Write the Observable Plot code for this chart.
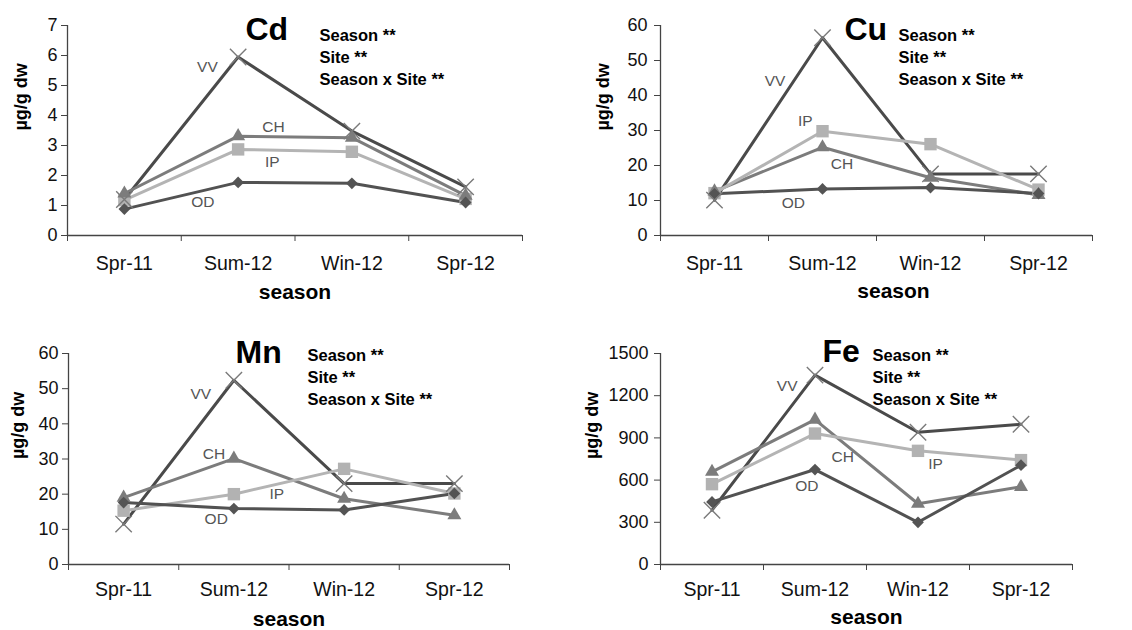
<!DOCTYPE html>
<html>
<head>
<meta charset="utf-8">
<script src="https://cdn.jsdelivr.net/npm/d3@7"></script>
<script src="https://cdn.jsdelivr.net/npm/@observablehq/plot@0.6"></script>
<style>
  html, body { margin: 0; padding: 0; background: #fff; }
  #root { position: relative; width: 1132px; height: 630px; overflow: hidden; font-family: "Liberation Sans", Arial, sans-serif; }
  .panel { position: absolute; }
</style>
</head>
<body>
<div id="root"></div>
<script>
// ---- categories ----
const seasons = ["Spr-11", "Sum-12", "Win-12", "Spr-12"];
const sites = ["VV", "CH", "IP", "OD"];
const annotation = ["Season **", "Site **", "Season x Site **"];
const yLabel = "µg/g dw";
const xLabel = "season";

// ---- Cd (µg/g dw) ----
const cdVV = [1.2, 5.95, 3.48, 1.62];
const cdCH = [1.4, 3.31, 3.26, 1.33];
const cdIP = [1.18, 2.87, 2.79, 1.22];
const cdOD = [0.88, 1.77, 1.74, 1.1];
const cdTicks = [0, 1, 2, 3, 4, 5, 6, 7];
// label anchors [site, season index, value]
const cdLabels = [["VV", 0.73, 5.6], ["CH", 1.31, 3.6], ["IP", 1.3, 2.45], ["OD", 0.69, 1.1]];

// ---- Cu ----
const cuVV = [10.1, 56.5, 17.6, 17.6];
const cuCH = [12.6, 25.2, 16.5, 11.6];
const cuIP = [12.1, 29.8, 26.1, 13.1];
const cuOD = [11.9, 13.3, 13.7, 12.0];
const cuTicks = [0, 10, 20, 30, 40, 50, 60];
const cuLabels = [["VV", 0.56, 44], ["IP", 0.84, 32.6], ["CH", 1.18, 20.5], ["OD", 0.73, 9.2]];

// ---- Mn ----
const mnVV = [11.5, 52.4, 23.0, 23.0];
const mnCH = [19.0, 30.1, 18.7, 14.0];
const mnIP = [15.3, 20.0, 27.2, 20.2];
const mnOD = [17.6, 15.9, 15.5, 20.2];
const mnTicks = [0, 10, 20, 30, 40, 50, 60];
const mnLabels = [["VV", 0.7, 48.6], ["CH", 0.82, 31.5], ["IP", 1.39, 19.9], ["OD", 0.84, 12.8]];

// ---- Fe ----
const feVV = [386, 1346, 940, 997];
const feCH = [659, 1030, 432, 552];
const feIP = [571, 931, 808, 742];
const feOD = [445, 675, 300, 706];
const feTicks = [0, 300, 600, 900, 1200, 1500];
const feLabels = [["VV", 0.73, 1272], ["CH", 1.27, 761], ["OD", 0.92, 555], ["IP", 2.17, 711]];

// ---- styling ----
const lineColors = ["#4a4a4a", "#7c7c7c", "#b4b4b4", "#525252"];
const font = "'Liberation Sans', Arial, sans-serif";

function rowsOf(series) {
  const rows = [];
  series.forEach(([site, vals]) => vals.forEach((v, i) => rows.push({site, i, v})));
  return rows;
}

function panel(cfg) {
  const rows = rowsOf(cfg.series);
  const labels = cfg.labels.map(([site, i, v]) => ({site, i, v}));
  const bySite = s => rows.filter(d => d.site === s);
  const ymax = cfg.ticks[cfg.ticks.length - 1];
  return Plot.plot({
    width: cfg.width, height: cfg.height,
    marginLeft: cfg.ml, marginRight: cfg.mr, marginTop: cfg.mt, marginBottom: cfg.mb,
    style: {fontFamily: font, background: "transparent", color: "#000", overflow: "visible"},
    x: {type: "linear", domain: [-0.5, 3.5]},
    y: {domain: [0, ymax]},
    color: {domain: sites, range: lineColors},
    marks: [
      Plot.axisY({ticks: cfg.ticks, tickSize: 6, tickPadding: cfg.typ, tickFormat: d => String(d), fontSize: 18, label: null, stroke: "#444", fill: "#111"}),
      Plot.axisX({ticks: [0, 1, 2, 3], tickSize: 0, tickPadding: cfg.txp, tickFormat: i => seasons[i], fontSize: 19.5, label: null, fill: "#111"}),
      Plot.axisX({ticks: [-0.5, 0.5, 1.5, 2.5, 3.5], tickSize: 6, tickFormat: () => "", label: null, stroke: "#444"}),
      Plot.ruleX([-0.5], {stroke: "#444", strokeWidth: 1.3}),
      Plot.ruleY([0], {stroke: "#444", strokeWidth: 1.3}),
      Plot.line(rows, {x: "i", y: "v", z: "site", stroke: "site", strokeWidth: 3}),
      Plot.dot(bySite("IP"), {x: "i", y: "v", symbol: "square", fill: "#b2b2b2", r: 7}),
      Plot.dot(bySite("CH"), {x: "i", y: "v", symbol: "triangle", fill: "#7c7c7c", r: 5.2}),
      Plot.dot(bySite("OD"), {x: "i", y: "v", symbol: "diamond2", fill: "#545454", r: 5.3}),
      Plot.dot(bySite("VV"), {x: "i", y: "v", symbol: "times", stroke: "#7a7a7a", strokeWidth: 1.4, r: 7.5}),
      Plot.text(labels, {x: "i", y: "v", text: "site", fill: "#555", fontSize: 15.5}),
      Plot.text([cfg.title], {text: d => d, frameAnchor: "top-left", dx: cfg.tdx, dy: cfg.tdy, lineAnchor: "bottom", textAnchor: "start", fontSize: 32, fontWeight: "bold", fill: "#000"}),
      Plot.text([annotation.join("\n")], {text: d => d, frameAnchor: "top-left", dx: cfg.adx, dy: cfg.ady, lineAnchor: "top", textAnchor: "start", fontSize: 16.5, fontWeight: "bold", lineHeight: 1.33, fill: "#000"}),
      Plot.text([yLabel], {text: d => d, frameAnchor: "left", dx: cfg.ydx, rotate: -90, fontSize: 18, fontWeight: "bold", fill: "#000"}),
      Plot.text([xLabel], {text: d => d, frameAnchor: "bottom", dx: cfg.xdx, dy: cfg.xdy, fontSize: 21, fontWeight: "bold", fill: "#000"})
    ]
  });
}

const panels = [
  {left: 0, top: 0, width: 566, height: 310, ml: 67, mr: 44, mt: 25, mb: 75,
   title: "Cd", ticks: cdTicks, labels: cdLabels, typ: 4, txp: 21,
   series: [["VV", cdVV], ["CH", cdCH], ["IP", cdIP], ["OD", cdOD]],
   tdx: 178, tdy: 14, adx: 252, ady: 0, ydx: -46, xdx: 0, xdy: 63},
  {left: 566, top: 0, width: 566, height: 310, ml: 94, mr: 40, mt: 25, mb: 75,
   title: "Cu", ticks: cuTicks, labels: cuLabels, typ: 7, txp: 21,
   series: [["VV", cuVV], ["CH", cuCH], ["IP", cuIP], ["OD", cuOD]],
   tdx: 184, tdy: 14, adx: 238, ady: 0, ydx: -57, xdx: 17, xdy: 62},
  {left: 0, top: 320, width: 566, height: 310, ml: 68, mr: 57, mt: 33, mb: 66,
   title: "Mn", ticks: mnTicks, labels: mnLabels, typ: 4, txp: 18,
   series: [["VV", mnVV], ["CH", mnCH], ["IP", mnIP], ["OD", mnOD]],
   tdx: 167, tdy: 9, adx: 239, ady: -8, ydx: -50, xdx: 0, xdy: 61},
  {left: 566, top: 320, width: 566, height: 310, ml: 94, mr: 60, mt: 33, mb: 66,
   title: "Fe", ticks: feTicks, labels: feLabels, typ: 6, txp: 18,
   series: [["VV", feVV], ["CH", feCH], ["IP", feIP], ["OD", feOD]],
   tdx: 162, tdy: 8, adx: 212, ady: -8, ydx: -68, xdx: 0, xdy: 59}
];

const root = document.getElementById("root");
for (const cfg of panels) {
  const div = document.createElement("div");
  div.className = "panel";
  div.style.left = cfg.left + "px";
  div.style.top = cfg.top + "px";
  div.appendChild(panel(cfg));
  root.appendChild(div);
}
</script>
</body>
</html>
